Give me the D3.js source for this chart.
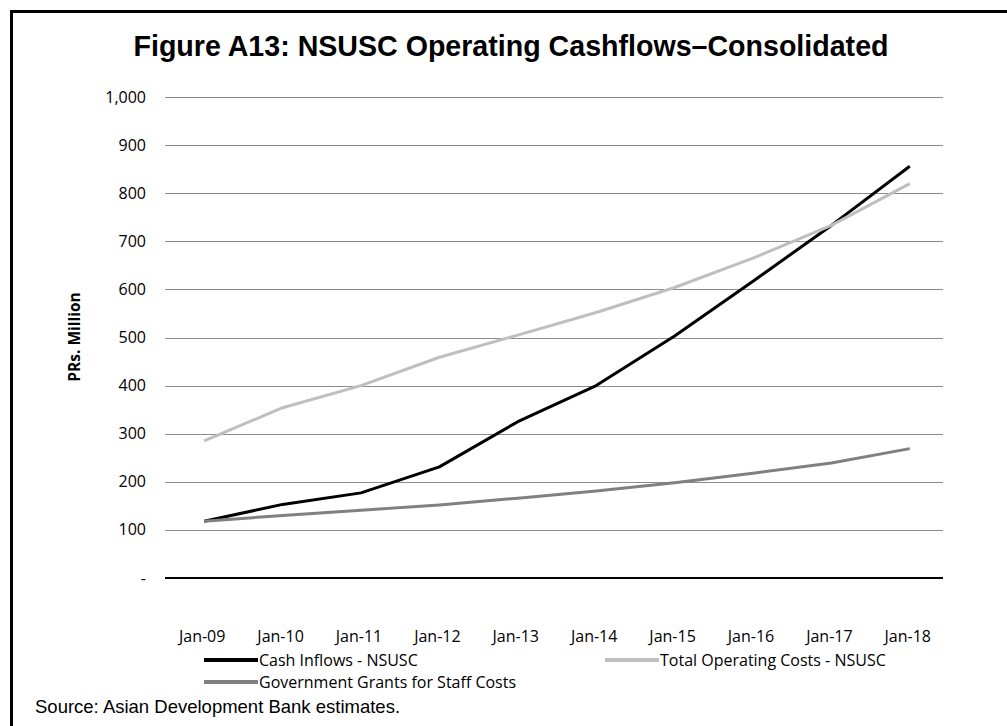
<!DOCTYPE html>
<html>
<head>
<meta charset="utf-8">
<script src="https://cdn.jsdelivr.net/npm/d3@7"></script>
<style>
  body { margin: 0; background: #fff; }
</style>
</head>
<body>
<svg width="1007" height="726"></svg>
<script>
const months = ["Jan-09", "Jan-10", "Jan-11", "Jan-12", "Jan-13", "Jan-14", "Jan-15", "Jan-16", "Jan-17", "Jan-18"];
const cashInflows = [118, 153, 177, 231, 325, 400, 503, 617, 733, 856];
const totalCosts = [285, 354, 400, 459, 505, 552, 604, 665, 733, 820];
const govtGrants = [118, 130, 141, 152, 166, 181, 198, 218, 239, 269];
const yTicks = [0, 100, 200, 300, 400, 500, 600, 700, 800, 900, 1000];

const series = [
  {name: "Cash Inflows - NSUSC", values: cashInflows, color: "#000000"},
  {name: "Total Operating Costs - NSUSC", values: totalCosts, color: "#bfbfbf"},
  {name: "Government Grants for Staff Costs", values: govtGrants, color: "#808080"}
];

const svg = d3.select("svg");
const tickFont = "Open Sans, Lato, sans-serif";

// frame (only top and left edges visible)
svg.append("path")
  .attr("d", "M11.5,726 V11.5 H1007")
  .attr("fill", "none")
  .attr("stroke", "#000")
  .attr("stroke-width", 3);

svg.append("text")
  .attr("x", 511).attr("y", 56)
  .attr("text-anchor", "middle")
  .attr("font-family", "Liberation Sans, Arial, sans-serif")
  .attr("font-weight", "bold")
  .attr("font-size", 30)
  .attr("textLength", 755)
  .attr("lengthAdjust", "spacingAndGlyphs")
  .text("Figure A13: NSUSC Operating Cashflows\u2013Consolidated");

const x = d3.scaleBand().domain(months).range([165, 949]);
const y = d3.scaleLinear().domain([0, 1000]).range([578, 97]);
const cx = d => x(d) + x.bandwidth() / 2;

// gridlines
svg.append("g")
  .selectAll("line")
  .data(yTicks.filter(t => t > 0))
  .join("line")
  .attr("x1", 165).attr("x2", 943)
  .attr("y1", d => Math.round(y(d)) + 0.5)
  .attr("y2", d => Math.round(y(d)) + 0.5)
  .attr("stroke", "#8c8c8c")
  .attr("stroke-width", 1);

// y labels
svg.append("g")
  .selectAll("text")
  .data(yTicks)
  .join("text")
  .attr("x", 146)
  .attr("y", d => y(d) + 5.5)
  .attr("text-anchor", "end")
  .attr("font-family", tickFont)
  .attr("font-size", 16)
  .attr("fill", "#000")
  .text(d => d === 0 ? "-" : d3.format(",")(d));

svg.append("text")
  .attr("transform", "translate(80,337) rotate(-90)")
  .attr("text-anchor", "middle")
  .attr("font-family", tickFont)
  .attr("font-weight", "bold")
  .attr("font-size", 15.5)
  .text("PRs. Million");

// series lines
const line = d3.line()
  .x((d, i) => cx(months[i]))
  .y(d => y(d));

svg.append("g")
  .selectAll("path")
  .data(series)
  .join("path")
  .attr("fill", "none")
  .attr("stroke", d => d.color)
  .attr("stroke-width", 3)
  .attr("stroke-linejoin", "round")
  .attr("d", d => line(d.values));

// x axis line
svg.append("line")
  .attr("x1", 165).attr("x2", 943)
  .attr("y1", y(0)).attr("y2", y(0))
  .attr("stroke", "#000")
  .attr("stroke-width", 2);

svg.append("g")
  .selectAll("text")
  .data(months)
  .join("text")
  .attr("x", d => cx(d) - 2)
  .attr("y", 642)
  .attr("text-anchor", "middle")
  .attr("font-family", tickFont)
  .attr("font-size", 16)
  .text(d => d);

// legend
const legendPos = [[204, 660], [605, 660], [204, 682]];
const lg = svg.append("g")
  .selectAll("g")
  .data(series)
  .join("g")
  .attr("transform", (d, i) => "translate(" + legendPos[i][0] + "," + legendPos[i][1] + ")");

lg.append("line")
  .attr("x1", 0).attr("x2", 54)
  .attr("stroke", d => d.color)
  .attr("stroke-width", 4);

lg.append("text")
  .attr("x", 55).attr("y", 5.5)
  .attr("font-family", tickFont)
  .attr("font-size", 16)
  .text(d => d.name);

svg.append("text")
  .attr("x", 35).attr("y", 713)
  .attr("font-family", "Liberation Sans, Arial, sans-serif")
  .attr("font-size", 18.5)
  .text("Source: Asian Development Bank estimates.");
</script>
</body>
</html>
